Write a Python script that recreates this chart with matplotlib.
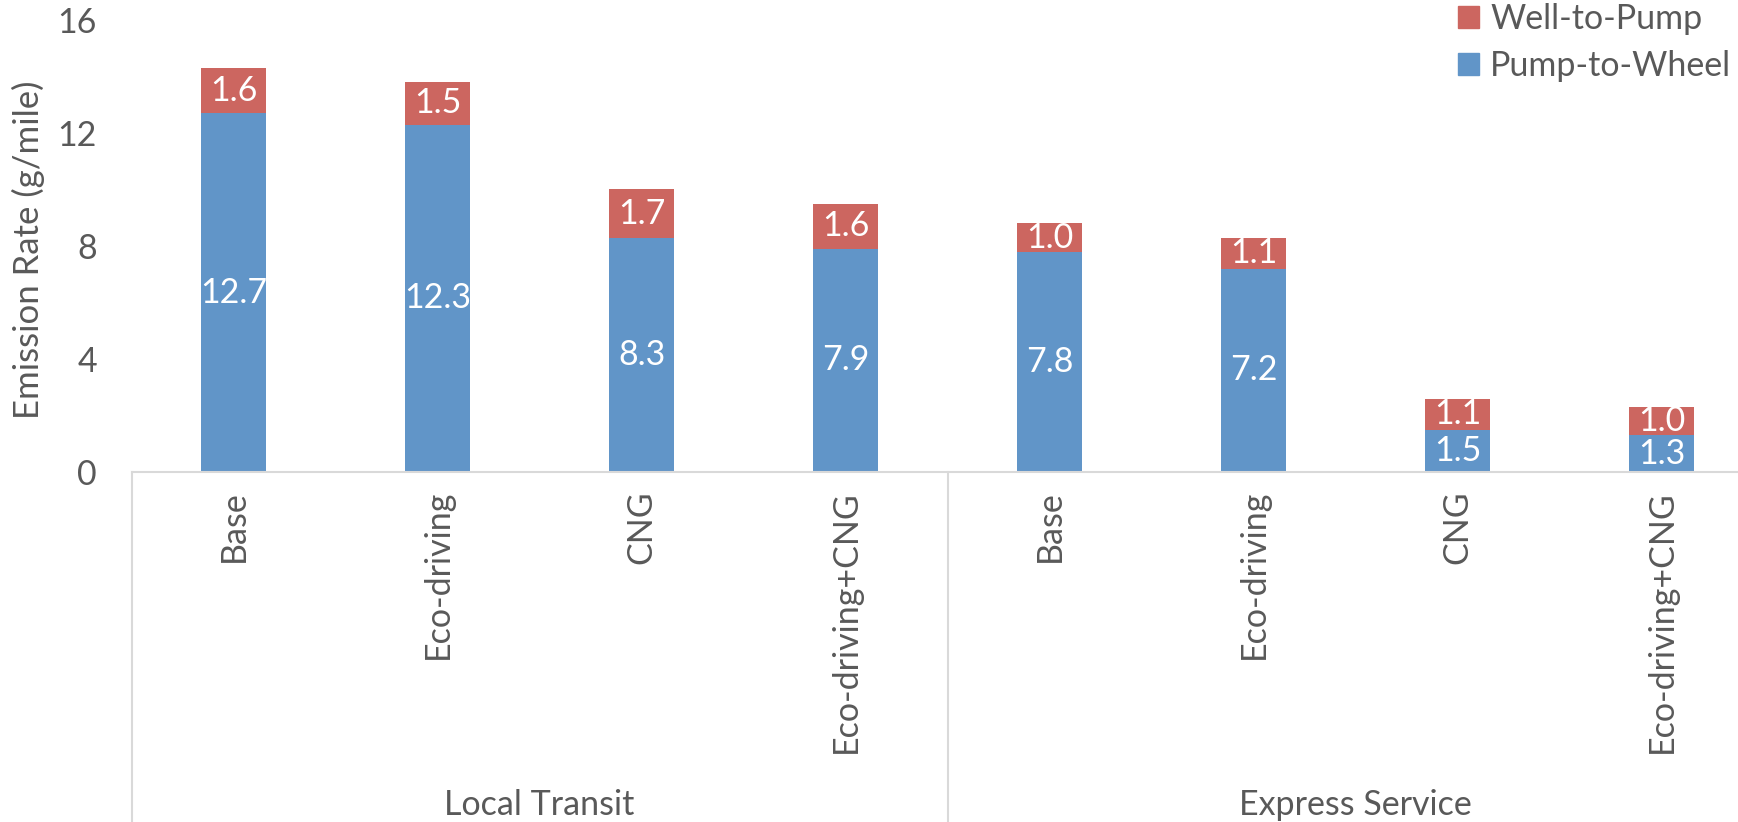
import matplotlib
matplotlib.use('Agg')
import matplotlib.pyplot as plt
from matplotlib.patches import Patch
from matplotlib.transforms import blended_transform_factory
import numpy as np

plt.rcParams['font.family'] = ['Lato', 'DejaVu Sans']

TEXT_COLOR = '#595959'
AXIS_COLOR = '#d9d9d9'
BLUE = '#6195c8'
RED = '#cc6660'
FONT_SIZE = 24.5

groups = ['Local Transit', 'Express Service']
scenarios = ['Base', 'Eco-driving', 'CNG', 'Eco-driving+CNG']
pump_to_wheel = [12.7, 12.3, 8.3, 7.9, 7.8, 7.2, 1.5, 1.3]
well_to_pump = [1.6, 1.5, 1.7, 1.6, 1.0, 1.1, 1.1, 1.0]
y_ticks = [0, 4, 8, 12, 16]

W, H = 1738, 822
fig = plt.figure(figsize=(W / 100, H / 100), dpi=100)
ax = fig.add_axes([131.5 / W, 1 - 472 / H, 1 - 131.5 / W, (472 - 20) / H])

labels = scenarios * len(groups)
x = np.arange(len(labels))
bar_w = 0.32

ax.bar(x, pump_to_wheel, width=bar_w, color=BLUE, label='Pump-to-Wheel')
ax.bar(x, well_to_pump, width=bar_w, bottom=pump_to_wheel, color=RED, label='Well-to-Pump')

# value labels centred in each segment
for xi, p, w in zip(x, pump_to_wheel, well_to_pump):
    ax.text(xi, p / 2, f'{p:.1f}', ha='center', va='center', color='white', fontsize=FONT_SIZE)
    ax.text(xi, p + w / 2, f'{w:.1f}', ha='center', va='center', color='white', fontsize=FONT_SIZE)

ax.set_xlim(-0.5, -0.5 + (W - 131.5) / 204)
ax.set_ylim(0, 16)
ax.set_yticks(y_ticks)
ax.tick_params(axis='y', length=0, pad=25, labelsize=FONT_SIZE, labelcolor=TEXT_COLOR)
ax.set_xticks(x)
ax.set_xticklabels(labels, rotation=90, va='top')
ax.tick_params(axis='x', length=0, pad=13, labelsize=FONT_SIZE, labelcolor=TEXT_COLOR)

for side in ['top', 'right', 'left']:
    ax.spines[side].set_visible(False)
ax.spines['bottom'].set_color(AXIS_COLOR)
ax.spines['bottom'].set_linewidth(1.5)

# group separators and group names under the category labels
trans = blended_transform_factory(ax.transData, fig.transFigure)
base_y = 1 - 472 / H
n = len(scenarios)
for k in range(len(groups) + 1):
    sx = -0.5 + k * n
    ax.plot([sx, sx], [base_y, 0], color=AXIS_COLOR, lw=1.5, transform=trans, clip_on=False)
for k, g in enumerate(groups):
    ax.text(k * n + (n - 1) / 2, 1 - 805 / H, g, ha='center', va='center',
            fontsize=FONT_SIZE, color=TEXT_COLOR, transform=trans)

fig.text(28 / W, 1 - 250 / H, 'Emission Rate (g/mile)', rotation=90, ha='center', va='center',
         fontsize=25, color=TEXT_COLOR)

handles = [Patch(color=RED), Patch(color=BLUE)]
fig.legend(handles, ['Well-to-Pump', 'Pump-to-Wheel'], loc='upper left',
           bbox_to_anchor=(1458 / W, 1 - 3 / H), frameon=False, fontsize=FONT_SIZE,
           labelcolor=TEXT_COLOR, handlelength=0.62, handleheight=0.62,
           handletextpad=0.32, labelspacing=0.45, borderpad=0, borderaxespad=0)

fig.savefig('out.png', dpi=100)
